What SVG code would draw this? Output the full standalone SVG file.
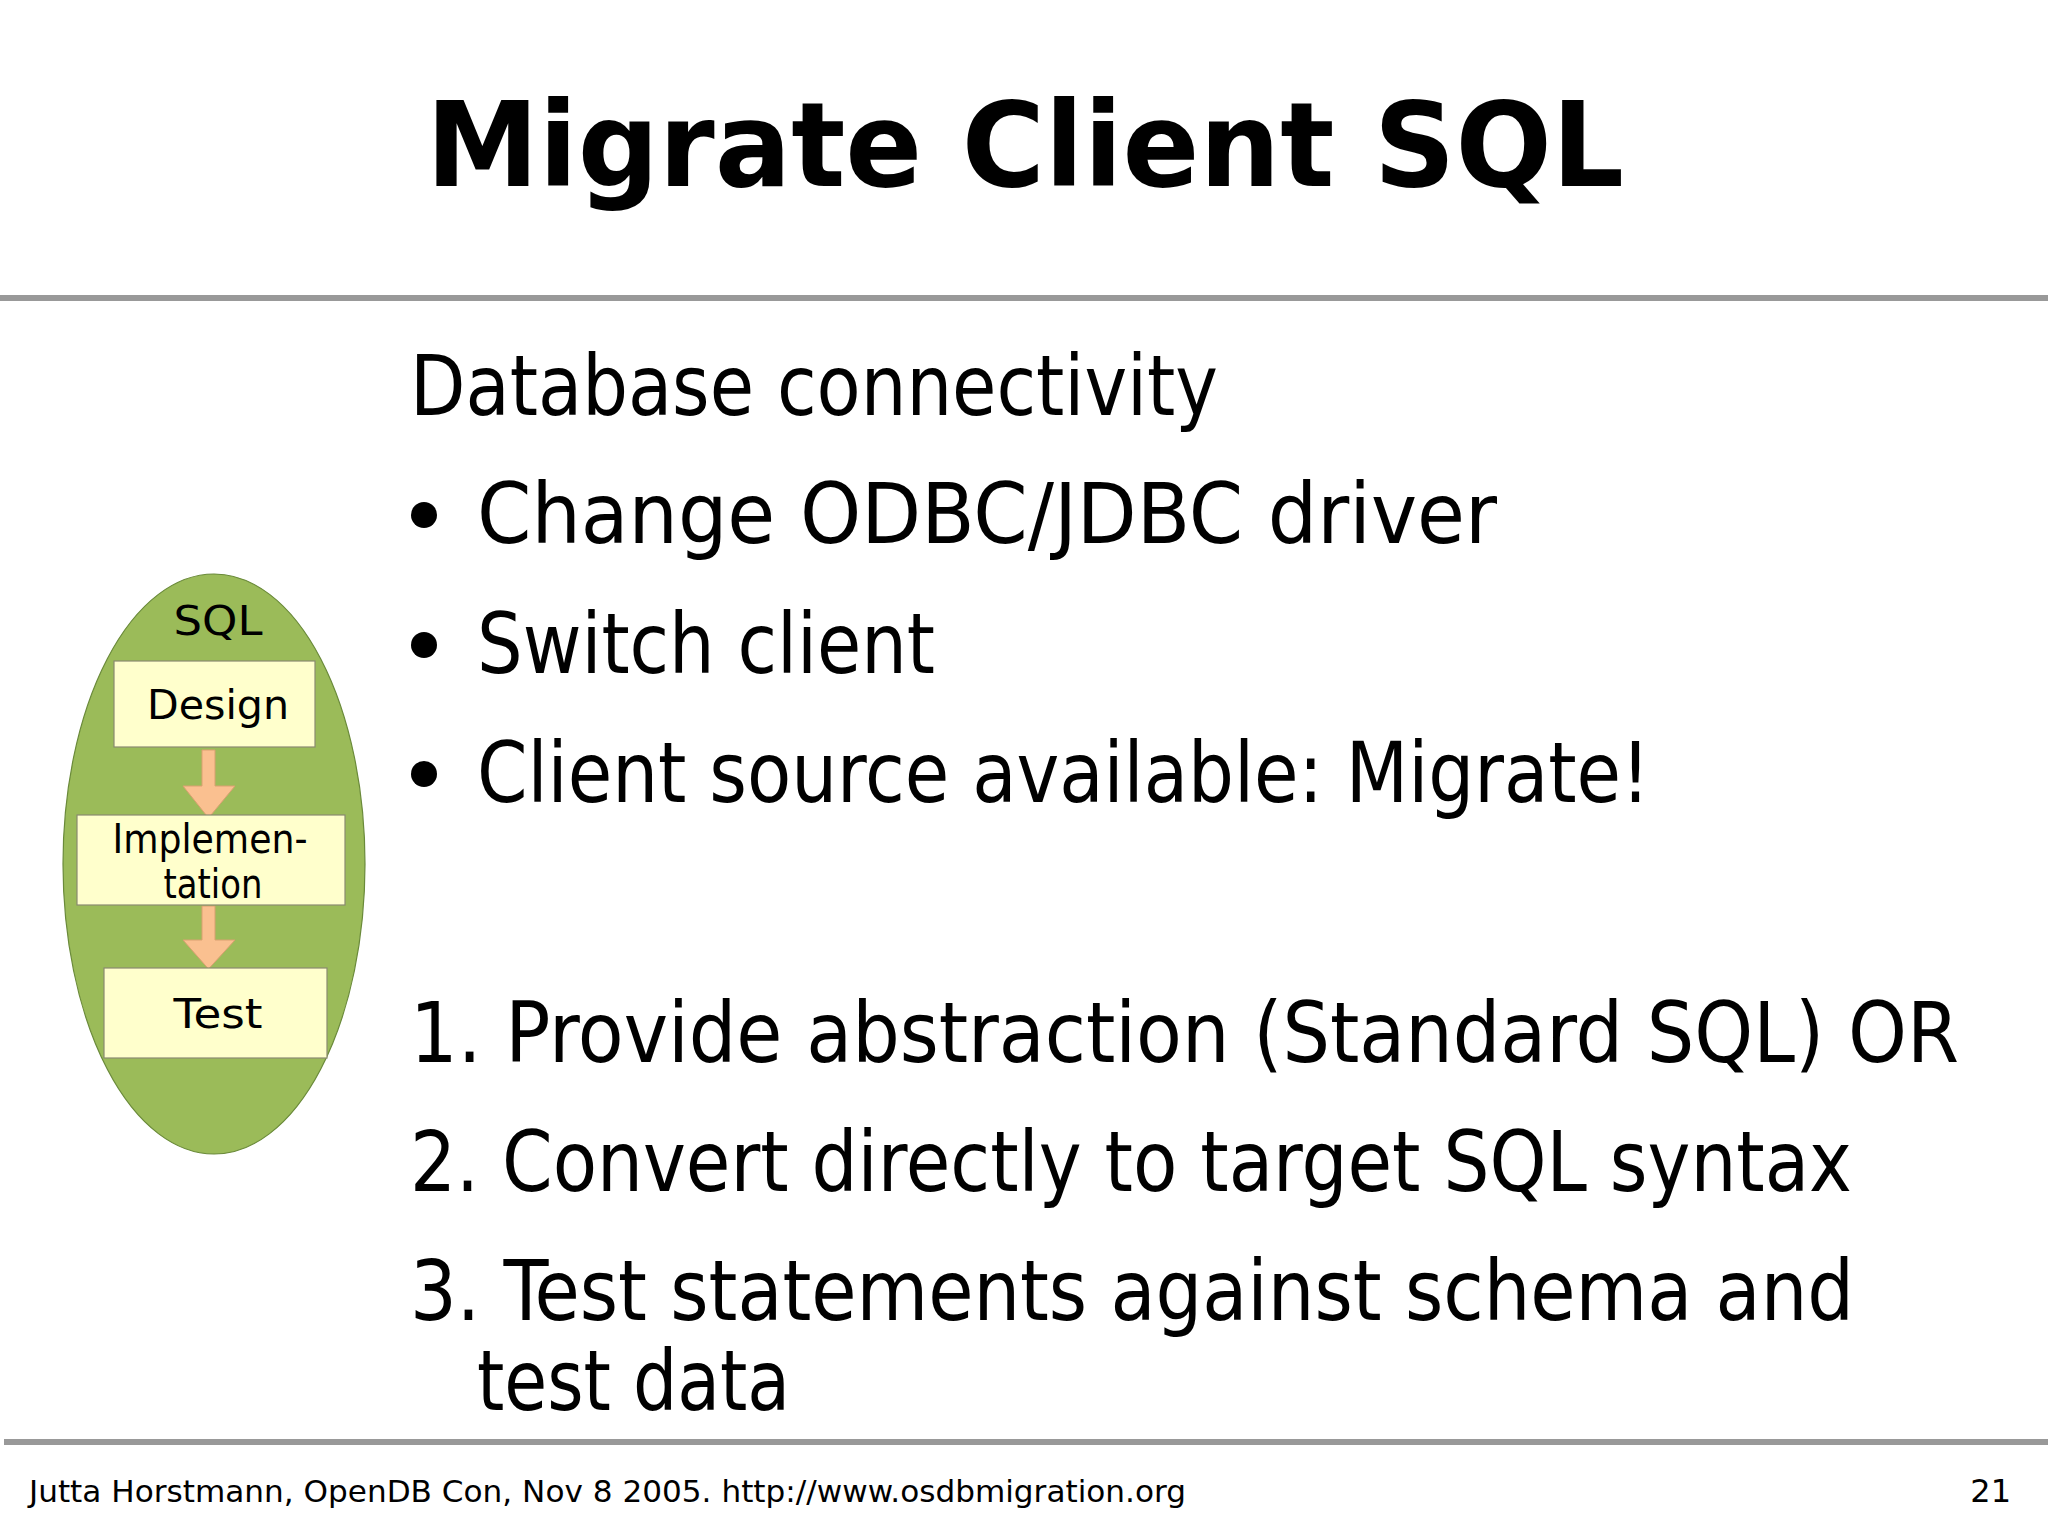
<svg xmlns="http://www.w3.org/2000/svg" width="2048" height="1537" viewBox="0 0 2048 1537">
<style>
text{font-family:"DejaVu Sans Condensed","DejaVu Sans",sans-serif;fill:#000}
.body{font-size:84px}
.box{fill:#ffffcc;stroke:#8a8a70;stroke-width:1.2}
.arr{fill:#fac090;stroke:#d9a070;stroke-width:1}
.lbl{font-size:40px;text-anchor:middle;font-family:"DejaVu Sans",sans-serif}
.rule{stroke:#999;stroke-width:6}
</style>
<rect width="2048" height="1537" fill="#fff"/>
<text x="1025" y="186" text-anchor="middle" font-size="118" font-weight="bold" textLength="1198" lengthAdjust="spacingAndGlyphs" style="font-family:'DejaVu Sans',sans-serif">Migrate Client SQL</text>
<line class="rule" x1="0" y1="298" x2="2048" y2="298"/>
<line class="rule" x1="4" y1="1442" x2="2048" y2="1442"/>
<text class="body" x="410" y="415" textLength="808" lengthAdjust="spacingAndGlyphs">Database connectivity</text>
<circle cx="424" cy="515" r="13"/>
<text class="body" x="477" y="543" textLength="1020" lengthAdjust="spacingAndGlyphs">Change ODBC/JDBC driver</text>
<circle cx="424" cy="645" r="13"/>
<text class="body" x="477" y="673" textLength="458" lengthAdjust="spacingAndGlyphs">Switch client</text>
<circle cx="424" cy="774" r="13"/>
<text class="body" x="477" y="802" textLength="1173" lengthAdjust="spacingAndGlyphs">Client source available: Migrate!</text>
<text class="body" x="410" y="1062" textLength="1549" lengthAdjust="spacingAndGlyphs">1. Provide abstraction (Standard SQL) OR</text>
<text class="body" x="410" y="1191" textLength="1442" lengthAdjust="spacingAndGlyphs">2. Convert directly to target SQL syntax</text>
<text class="body" x="410" y="1320" textLength="1444" lengthAdjust="spacingAndGlyphs">3. Test statements against schema and</text>
<text class="body" x="477" y="1410" textLength="313" lengthAdjust="spacingAndGlyphs">test data</text>
<text x="29" y="1502" font-size="30" textLength="1157" lengthAdjust="spacingAndGlyphs" style="font-family:'DejaVu Sans',sans-serif">Jutta Horstmann, OpenDB Con, Nov 8 2005. http://www.osdbmigration.org</text>
<text x="2011" y="1502" font-size="32" text-anchor="end" style="font-family:'DejaVu Sans',sans-serif">21</text>
<g id="sql">
<ellipse cx="214" cy="864" rx="151" ry="290" fill="#9bbb59" stroke="#6a8a3a" stroke-width="1.2"/>
<text class="lbl" x="218" y="635" textLength="89" lengthAdjust="spacingAndGlyphs">SQL</text>
</g>
<g id="connectors">
<polygon class="arr" points="202,750 215,750 215,786 235,786 208.5,818 183,786 202,786"/>
<polygon class="arr" points="202,906 215,906 215,940 235,940 208.5,969 183,940 202,940"/>
</g>
<g id="design">
<rect class="box" x="114" y="661" width="201" height="86"/>
<text class="lbl" x="218" y="719" textLength="142" lengthAdjust="spacingAndGlyphs">Design</text>
</g>
<g id="impl">
<rect class="box" x="77" y="815" width="268" height="90"/>
<text class="lbl" x="210" y="853" font-size="36" textLength="195" lengthAdjust="spacingAndGlyphs">Implemen-</text>
<text class="lbl" x="213" y="898" font-size="36" textLength="99" lengthAdjust="spacingAndGlyphs">tation</text>
</g>
<g id="test">
<rect class="box" x="104" y="968" width="223" height="90"/>
<text class="lbl" x="218" y="1028" textLength="89" lengthAdjust="spacingAndGlyphs">Test</text>
</g>
</svg>
